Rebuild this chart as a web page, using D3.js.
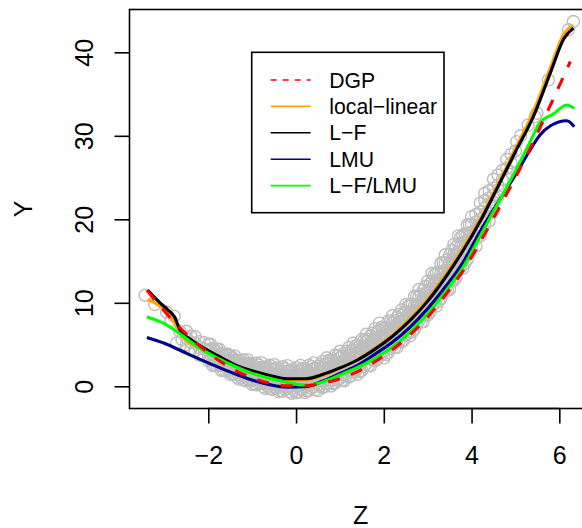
<!DOCTYPE html>
<html>
<head>
<meta charset="utf-8">
<script src="https://cdn.jsdelivr.net/npm/d3@7"></script>
<style>
  html, body { margin: 0; padding: 0; background: #fff; }
  svg { display: block; font-family: "Liberation Sans", Arial, Helvetica, sans-serif; }
</style>
</head>
<body>
<svg id="chart" width="582" height="528"></svg>
<script>
// ---------- data ----------
const xTicks = [-2, 0, 2, 4, 6];
const yTicks = [0, 10, 20, 30, 40];

// scatter: columns of Z with the Y values of the circles in each column
const bandZ = [-2.5,-2.4,-2.3,-2.2,-2.1,-2.0,-1.9,-1.8,-1.7,-1.6,-1.5,-1.4,-1.3,-1.2,-1.1,-1.0,-0.9,-0.8,-0.7,-0.6,-0.5,-0.4,-0.3,-0.2,-0.1,0.0,0.1,0.2,0.3,0.4,0.5,0.6,0.7,0.8,0.9,1.0,1.1,1.2,1.3,1.4,1.5,1.6,1.7,1.8,1.9,2.0,2.1,2.2,2.3,2.4,2.5,2.6,2.7,2.8,2.9,3.0,3.1,3.2,3.3,3.4,3.5,3.6,3.7,3.8,3.9,4.0,4.1,4.2,4.3,4.4,4.5,4.6,4.7,4.8,4.9];
const bandY = [
 [4.97,5.85,6.6],[4.38,5.26,6.0],[4.3,5.18,5.93],[3.72,4.6,5.35],[3.63,4.51,5.26],
 [3.05,3.68,4.3,5.05],[2.5,3.13,3.88,4.5],[2.45,3.08,3.7,4.45],[1.9,2.53,3.28,3.9],[1.85,2.48,3.1,3.85],
 [1.43,2.05,2.55,3.05,3.68],[1.46,2.1,2.62,3.13,3.64],[0.86,1.38,2.04,2.56,3.09],[0.77,1.44,1.98,2.52,3.19],[0.83,1.52,2.06,2.61,3.16],
 [0.2,0.76,1.46,2.02,2.58],[0.18,0.9,1.48,2.06,2.78],[0.32,1.06,1.66,2.25,2.84],[-0.28,0.33,1.09,1.7,2.3],[-0.28,0.5,1.12,1.74,2.52],
 [-0.12,0.68,1.32,1.96,2.6],[-0.66,-0.02,0.79,1.43,2.08],[-0.56,0.25,0.9,1.55,2.36],[-0.29,0.52,1.18,1.83,2.48],[-0.84,-0.18,0.64,1.29,1.95],
 [-0.74,0.09,0.75,1.41,2.24],[-0.32,0.51,1.17,1.84,2.5],[-0.74,-0.07,0.76,1.43,2.1],[-0.49,0.35,1.02,1.69,2.53],[-0.07,0.77,1.45,2.12,2.8],
 [-0.5,0.18,1.03,1.71,2.39],[-0.15,0.72,1.42,2.12,2.99],[0.39,1.28,2.0,2.71,3.42],[0.04,0.77,1.68,2.41,3.13],[0.41,1.34,2.08,2.82,3.75],
 [0.97,1.92,2.68,3.44,4.2],[0.66,1.43,2.4,3.17,3.94],[1.12,2.1,2.88,3.66,4.64],[1.78,2.77,3.57,4.36,5.16],[1.44,2.25,3.26,4.07,4.87],
 [1.9,2.93,3.75,4.57,5.6],[2.7,3.74,4.58,5.41,6.24],[2.46,3.3,4.36,5.2,6.05],[3.05,4.12,4.98,5.84,6.91],[3.87,4.96,5.82,6.69,7.56],
 [3.4,4.24,5.29,6.13,6.97],[4.03,5.09,5.93,6.77,7.83],[4.88,5.94,6.78,7.63,8.48],[4.66,5.51,6.58,7.43,8.28],[5.29,6.36,7.22,8.08,9.15],
 [6.15,7.22,8.08,8.94,9.8],[6.06,6.93,8.01,8.88,9.75],[6.84,7.93,8.81,9.69,10.78],[7.84,8.95,9.83,10.72,11.6],[7.74,8.63,9.75,10.64,11.53],
 [8.53,9.65,10.55,11.45,12.58],[9.65,10.79,11.71,12.62,13.54],[9.62,10.55,11.72,12.65,13.58],[10.52,11.7,12.65,13.6,14.78],[11.66,12.87,13.83,14.8,15.76],
 [11.6,12.58,13.81,14.79,15.77],[12.68,13.89,14.85,15.81,17.02],[13.99,15.18,16.12,17.07,18.02],[14.12,15.05,16.22,17.15,18.08],[15.19,16.33,17.25,18.17,19.31],
 [16.48,17.6,18.5,19.4,20.3],[16.8,17.69,18.8,19.69,20.57],[18.02,19.11,19.99,20.87,21.96],[19.45,20.53,21.39,22.26,23.12],[19.8,20.65,21.72,22.57,23.42],
 [21.01,22.06,22.9,23.74,24.79],[22.72,24.11,25.3],[23.43,24.74,25.86],[24.88,26.12,27.17],[25.63,26.79,27.78]
];
// second set of columns, between the first ones, where the cloud is densest
const bandZ2 = [-1.95,-1.85,-1.75,-1.65,-1.55,-1.45,-1.35,-1.25,-1.15,-1.05,-0.95,-0.85,-0.75,-0.65,-0.55,-0.45,-0.35,-0.25,-0.15,-0.05,0.05,0.15,0.25,0.35,0.45,0.55,0.65,0.75,0.85,0.95,1.05,1.15,1.25,1.35,1.45,1.55,1.65,1.75,1.85,1.95,2.05,2.15,2.25,2.35,2.45,2.55,2.65,2.75,2.85,2.95,3.05,3.15,3.25,3.35,3.45,3.55,3.65,3.75,3.85,3.95];
const bandY2 = [
 [3.15,3.78,4.4,5.03],[2.48,3.1,3.73,4.35],[2.55,3.18,3.8,4.43],[1.88,2.5,3.13,3.75],[1.95,2.58,3.2,3.83],
 [1.49,2.08,2.46,2.83,3.42],[1.1,1.67,2.14,2.52,3.04],[1.07,1.68,2.08,2.47,3.08],[0.67,1.26,1.75,2.16,2.7],[0.64,1.28,1.7,2.11,2.75],
 [0.26,0.89,1.4,1.82,2.39],[0.31,0.98,1.42,1.86,2.53],[-0.05,0.61,1.15,1.6,2.2],[0.01,0.72,1.18,1.64,2.35],[-0.36,0.33,0.9,1.38,2.01],
 [-0.24,0.49,0.98,1.46,2.19],[-0.53,0.18,0.76,1.25,1.89],[-0.36,0.39,0.88,1.36,2.11],[-0.65,0.07,0.66,1.15,1.81],[-0.48,0.28,0.78,1.27,2.03],
 [-0.69,0.03,0.63,1.13,1.79],[-0.38,0.39,0.89,1.38,2.15],[-0.53,0.2,0.81,1.31,1.98],[-0.22,0.56,1.07,1.57,2.35],[-0.37,0.38,0.99,1.49,2.17],
 [0.0,0.79,1.31,1.83,2.62],[-0.05,0.72,1.35,1.88,2.59],[0.38,1.21,1.75,2.29,3.12],[0.31,1.12,1.79,2.34,3.07],[0.76,1.63,2.19,2.75,3.62],
 [0.72,1.56,2.25,2.83,3.59],[1.26,2.15,2.74,3.32,4.21],[1.25,2.12,2.83,3.42,4.21],[1.79,2.71,3.32,3.92,4.84],[1.77,2.67,3.4,4.01,4.83],
 [2.39,3.34,3.96,4.57,5.52],[2.48,3.4,4.16,4.78,5.62],[3.16,4.14,4.78,5.41,6.39],[3.25,4.19,4.97,5.62,6.48],[3.82,4.81,5.45,6.1,7.08],
 [3.82,4.75,5.5,6.14,6.98],[4.54,5.51,6.15,6.78,7.75],[4.66,5.6,6.36,7.0,7.85],[5.38,6.36,7.01,7.65,8.63],[5.5,6.45,7.22,7.86,8.72],
 [6.3,7.29,7.94,8.59,9.58],[6.56,7.52,8.3,8.96,9.83],[7.43,8.44,9.1,9.76,10.77],[7.68,8.66,9.46,10.12,11.01],[8.56,9.59,10.26,10.93,11.96],
 [8.86,9.86,10.67,11.35,12.26],[9.84,10.91,11.6,12.29,13.36],[10.19,11.22,12.07,12.77,13.71],[11.18,12.28,13.0,13.72,14.82],[11.51,12.58,13.46,14.19,15.16],
 [12.6,13.72,14.45,15.18,16.3],[13.1,14.15,15.01,15.73,16.68],[14.26,15.35,16.05,16.76,17.84],[14.77,15.79,16.62,17.31,18.24],[15.92,16.97,17.65,18.33,19.38]
];
// isolated circles at the two ends
const extraZ = [-3.44,-3.22,-2.95,-2.85,-2.78,-2.72,-2.65,-2.6, 5.0,5.03,5.12,5.29,5.45,5.49,5.75,6.21,6.32];
const extraY = [10.9,9.8,8.9,7.9,8.4,5.2,6.6,5.6, 28.2,29.3,30.0,31.3,32.3,32.7,36.7,42.7,43.7];

// curves
const dgpZ = [-3.4,-3.0,-2.6,-2.2,-1.8,-1.4,-1.0,-0.6,-0.2,0.2,0.6,1.0,1.4,1.8,2.2,2.6,3.0,3.4,3.8,4.2,4.6,5.0,5.4,5.8,6.25];
const dgpY = [11.5,9.0,6.75,4.85,3.25,1.95,1.0,0.38,0.05,0.05,0.35,0.9,1.75,2.95,4.4,6.2,8.3,10.9,13.8,17.3,21.1,25.0,29.2,33.7,38.9];

const llZ = [-3.38,-3.1,-2.9,-2.75,-2.6,-2.4,-2.15,-1.8,-1.4,-1.0,-0.6,-0.2,0.2,0.6,1.0,1.4,1.8,2.2,2.6,3.0,3.4,3.8,4.2,4.6,5.0,5.4,5.8,6.1,6.3];
const llY = [10.4,9.6,8.6,7.4,6.0,5.1,4.5,3.6,2.5,1.75,1.2,0.75,0.75,1.3,2.15,3.2,4.55,6.15,8.1,10.45,13.3,16.5,20.1,24.2,28.5,32.8,38.2,42.2,43.2];

const lfZ = [-3.38,-3.1,-2.91,-2.77,-2.64,-2.4,-2.15,-1.8,-1.4,-1.0,-0.6,-0.2,0.2,0.6,1.0,1.4,1.8,2.2,2.6,3.0,3.4,3.8,4.2,4.6,5.0,5.4,5.8,6.1,6.32];
const lfY = [11.5,10.0,9.1,8.3,6.7,5.6,4.74,3.7,2.6,1.85,1.3,0.9,0.9,1.4,2.2,3.15,4.45,6.0,7.9,10.2,13.0,16.2,19.8,23.9,28.1,32.2,37.6,41.6,42.9];

const lmuZ = [-3.4,-3.0,-2.6,-2.2,-1.8,-1.4,-1.0,-0.6,-0.2,0.2,0.6,1.0,1.4,1.8,2.2,2.6,3.0,3.4,3.8,4.2,4.6,5.0,5.3,5.56,5.8,6.17,6.34];
const lmuY = [5.85,5.15,4.2,3.25,2.35,1.5,0.75,0.2,-0.1,-0.05,0.6,1.55,2.5,3.85,5.3,7.1,9.3,11.9,14.8,18.6,22.0,25.3,28.0,30.1,31.2,31.8,31.1];

const lflmuZ = [-3.4,-3.0,-2.6,-2.2,-1.8,-1.4,-1.0,-0.6,-0.2,0.2,0.6,1.0,1.4,1.8,2.2,2.6,3.0,3.4,3.8,4.2,4.6,5.0,5.3,5.56,5.86,6.17,6.34];
const lflmuY = [8.3,7.5,6.1,4.6,3.4,2.4,1.55,0.95,0.45,0.15,0.5,1.35,2.25,3.35,4.7,6.5,8.7,11.3,14.2,18.0,21.9,25.8,28.9,31.6,32.6,33.7,33.3];

const legendLabels = ["DGP", "local\u2212linear", "L\u2212F", "LMU", "L\u2212F/LMU"];
const seriesColors = ["#FF0000", "#FFA500", "#000000", "#00008B", "#00FF00"];

// ---------- drawing ----------
const svg = d3.select("#chart");
const L = 129.5, R = 592, T = 9.5, B = 408.5;
const x = d3.scaleLinear().domain([-3.796, 6.745]).range([L, R]);
const y = d3.scaleLinear().domain([-2.66, 45.13]).range([B, T]);

svg.append("defs").append("clipPath").attr("id", "clip")
  .append("rect").attr("x", L).attr("y", T).attr("width", R - L).attr("height", B - T);

const plot = svg.append("g").attr("clip-path", "url(#clip)");

// scatter points
const pts = [];
bandZ.forEach((z, i) => bandY[i].forEach(v => pts.push([z, v])));
bandZ2.forEach((z, i) => bandY2[i].forEach(v => pts.push([z, v])));
extraZ.forEach((z, i) => pts.push([z, extraY[i]]));
plot.append("g").selectAll("circle").data(pts).join("circle")
  .attr("cx", d => x(d[0])).attr("cy", d => y(d[1])).attr("r", 6)
  .attr("fill", "none").attr("stroke", "#BEBEBE").attr("stroke-width", 1.4);

const line = d3.line().x(d => x(d[0])).y(d => y(d[1])).curve(d3.curveMonotoneX);
const zip = (a, b) => a.map((v, i) => [v, b[i]]);

const curves = [
  { d: zip(llZ, llY), c: seriesColors[1], dash: null },
  { d: zip(lfZ, lfY), c: seriesColors[2], dash: null },
  { d: zip(lmuZ, lmuY), c: seriesColors[3], dash: null },
  { d: zip(lflmuZ, lflmuY), c: seriesColors[4], dash: null },
  { d: zip(dgpZ, dgpY), c: seriesColors[0], dash: "12,12" }
];
curves.forEach(s => {
  plot.append("path").attr("d", line(s.d)).attr("fill", "none")
    .attr("stroke", s.c).attr("stroke-width", 3.1)
    .attr("stroke-dasharray", s.dash)
    .attr("stroke-linejoin", "round").attr("stroke-linecap", "butt");
});

// box
svg.append("rect").attr("x", L).attr("y", T).attr("width", R - L).attr("height", B - T)
  .attr("fill", "none").attr("stroke", "#000").attr("stroke-width", 1.6);

// axes
const fmt = d => d3.format("d")(d);
const gx = svg.append("g").attr("transform", `translate(0,${B})`)
  .call(d3.axisBottom(x).tickValues(xTicks).tickSize(15).tickFormat(fmt));
gx.select(".domain").remove();
gx.selectAll(".tick line").attr("stroke", "#000").attr("stroke-width", 1.6);
gx.selectAll(".tick text").attr("y", 55.5).attr("dy", null)
  .attr("font-size", 25).attr("fill", "#000").attr("font-family", "Liberation Sans, Arial, sans-serif");
svg.append("line").attr("x1", x(xTicks[0])).attr("x2", x(xTicks[xTicks.length - 1]))
  .attr("y1", B).attr("y2", B).attr("stroke", "#000").attr("stroke-width", 1.6);

const gy = svg.append("g").attr("transform", `translate(${L},0)`)
  .call(d3.axisLeft(y).tickValues(yTicks).tickSize(15).tickFormat(fmt));
gy.select(".domain").remove();
gy.selectAll(".tick line").attr("stroke", "#000").attr("stroke-width", 1.6);
gy.selectAll(".tick text").attr("x", null).attr("y", null).attr("dy", null)
  .attr("transform", "translate(-36.2,0) rotate(-90)")
  .attr("text-anchor", "middle")
  .attr("font-size", 25).attr("fill", "#000").attr("font-family", "Liberation Sans, Arial, sans-serif");

// axis titles
svg.append("text").attr("x", (L + R) / 2).attr("y", 523.5).attr("text-anchor", "middle")
  .attr("font-size", 25).text("Z");
svg.append("text").attr("transform", `translate(31.7,${(T + B) / 2}) rotate(-90)`)
  .attr("text-anchor", "middle").attr("font-size", 25).text("Y");

// legend
const lg = svg.append("g");
lg.append("rect").attr("x", 251.7).attr("y", 52.3).attr("width", 192.3).attr("height", 160.4)
  .attr("fill", "#fff").attr("stroke", "#000").attr("stroke-width", 1.6);
const rowY = [80, 106.4, 132.8, 159.2, 185.6];
legendLabels.forEach((lab, i) => {
  lg.append("line").attr("x1", 270.7).attr("x2", 310.7).attr("y1", rowY[i]).attr("y2", rowY[i])
    .attr("stroke", seriesColors[i]).attr("stroke-width", 1.6)
    .attr("stroke-dasharray", i === 0 ? "6,6" : null);
  lg.append("text").attr("x", 329.3).attr("y", rowY[i] + 7.6).attr("font-size", 21.2).text(lab);
});
</script>
</body>
</html>
